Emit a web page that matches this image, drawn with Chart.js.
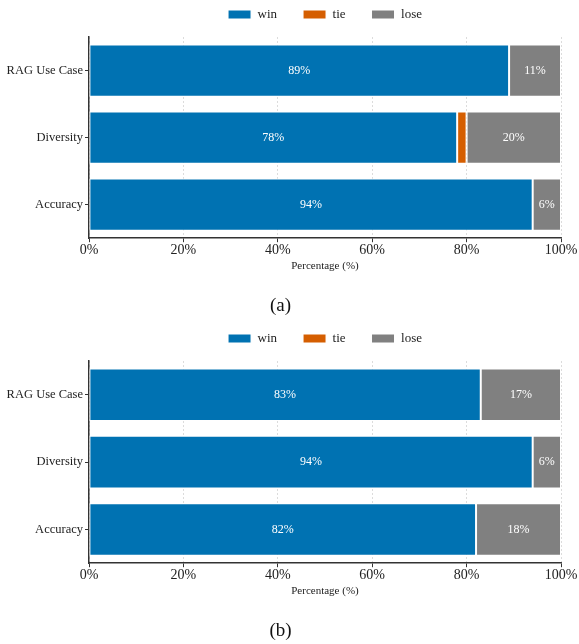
<!DOCTYPE html>
<html>
<head>
<meta charset="utf-8">
<script src="https://cdn.jsdelivr.net/npm/chart.js@4.4.0/dist/chart.umd.min.js"></script>
<style>
  body { margin: 0; background: #fff; }
  canvas { display: block; }
</style>
</head>
<body>
<canvas id="chartA" width="579" height="322"></canvas>
<canvas id="chartB" width="579" height="322"></canvas>
<script>
// data
const categories = ['RAG Use Case', 'Diversity', 'Accuracy'];
const winA = [89, 78, 94];
const tieA = [0, 2, 0];
const loseA = [11, 20, 6];
const winB = [83, 94, 82];
const tieB = [0, 0, 0];
const loseB = [17, 6, 18];
const seriesNames = ['win', 'tie', 'lose'];
const seriesColors = ['#0072B2', '#D55E00', '#808080'];

Chart.defaults.font.family = "'Liberation Serif', 'Times New Roman', serif";
Chart.defaults.color = '#222';

// white % labels in the middle of win / lose segments
const segmentLabels = {
  id: 'segmentLabels',
  afterDatasetsDraw(chart) {
    const ctx = chart.ctx;
    ctx.save();
    ctx.fillStyle = '#fff';
    ctx.font = "12px 'Liberation Serif', serif";
    ctx.textAlign = 'center';
    ctx.textBaseline = 'middle';
    chart.data.datasets.forEach((ds, i) => {
      if (ds.label === 'tie') return;
      chart.getDatasetMeta(i).data.forEach((bar, j) => {
        const v = ds.data[j];
        if (!v) return;
        ctx.fillText(v + '%', (bar.x + bar.base) / 2, bar.y);
      });
    });
    ctx.restore();
  }
};

function makeChart(id, win, tie, lose, caption, pad, capPad, gap) {
  const values = [win, tie, lose];
  return new Chart(document.getElementById(id), {
    type: 'bar',
    data: {
      labels: categories,
      datasets: seriesNames.map((name, i) => ({
        label: name,
        data: values[i],
        backgroundColor: seriesColors[i],
        borderColor: '#fff',
        borderWidth: 1,
        borderSkipped: false,
        barPercentage: 0.78,
        categoryPercentage: 1
      }))
    },
    options: {
      indexAxis: 'y',
      responsive: false,
      animation: false,
      layout: { padding: pad },
      scales: {
        x: {
          stacked: true,
          min: 0,
          max: 100,
          ticks: {
            stepSize: 20,
            padding: 0,
            color: '#222',
            font: { size: 14 },
            callback: v => v + '%'
          },
          grid: {
            color: '#d4d4d4',
            lineWidth: 0.8,
            tickColor: '#333',
            tickLength: 4,
            tickWidth: 1
          },
          border: { display: true, color: '#333', width: 1.5, dash: [2, 2] },
          title: {
            display: true,
            text: 'Percentage (%)',
            color: '#222',
            font: { size: 11 },
            padding: { top: 1, bottom: 4 }
          }
        },
        // empty top axis, only used as a spacer under the legend
        spacer: {
          type: 'linear',
          axis: 'x',
          position: 'top',
          ticks: { display: false },
          grid: { display: false },
          border: { display: false },
          afterFit(scale) { scale.height = gap; }
        },
        y: {
          stacked: true,
          afterFit(scale) { scale.width = 89; },
          ticks: { padding: 2, color: '#222', font: { size: 12.5 } },
          grid: {
            offset: false,
            drawOnChartArea: false,
            tickColor: '#333',
            tickLength: 4
          },
          border: { display: true, color: '#333', width: 1.5 }
        }
      },
      plugins: {
        legend: {
          position: 'top',
          fullSize: false,
          labels: {
            boxWidth: 23,
            boxHeight: 9,
            padding: 26,
            color: '#222',
            font: { size: 13 }
          }
        },
        title: {
          display: true,
          position: 'bottom',
          text: caption,
          color: '#111',
          font: { size: 19, weight: 'normal' },
          padding: capPad
        },
        tooltip: { enabled: false }
      }
    },
    plugins: [segmentLabels]
  });
}

makeChart('chartA', winA, tieA, loseA, '(a)',
  { top: -18, right: 18, bottom: 3, left: 0 }, { top: 17, bottom: 2 }, 6);
makeChart('chartB', winB, tieB, loseB, '(b)',
  { top: -16, right: 18, bottom: 0, left: 0 }, { top: 17.5, bottom: 1.5 }, 6);
</script>
</body>
</html>
